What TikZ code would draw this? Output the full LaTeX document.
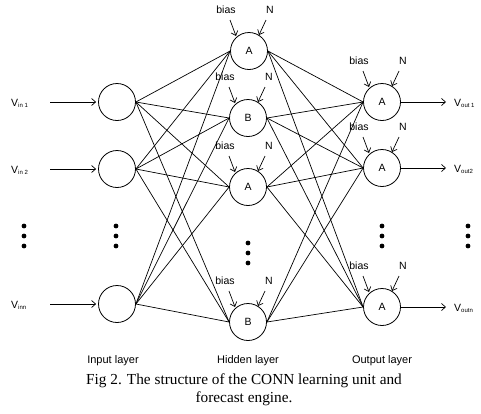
\documentclass[tikz,border=0pt]{standalone}
\usepackage{fontspec}
\setmainfont{Liberation Sans}
\newfontfamily\capfont{Liberation Serif}
\usetikzlibrary{arrows.meta,calc}
\begin{document}
\begin{tikzpicture}[x=1pt,y=-1pt,
  neuron/.style={circle,draw,line width=0.8pt,minimum size=37pt,inner sep=0pt,font=\fontsize{10.5}{11}\selectfont},
  conn/.style={line width=0.7pt},
  inarrow/.style={line width=0.7pt,-{Straight Barb[length=4pt,width=7pt]}},
  small/.style={font=\fontsize{10.5}{11}\selectfont,inner sep=0pt},
  lbl/.style={font=\fontsize{11}{12}\selectfont,inner sep=0pt},
  dot/.style={circle,fill,inner sep=0pt,minimum size=4.8pt}]
\useasboundingbox (0,0) rectangle (481,413);
\newcommand{\vsub}[1]{V\raisebox{-1pt}{\fontsize{6}{6}\selectfont #1}}
% input layer
\node[neuron] (i1) at (117,102) {};
\node[neuron] (i2) at (117,169) {};
\node[neuron] (in) at (117,304) {};
% hidden layer
\node[neuron] (h1) at (249,51) {A};
\node[neuron] (h2) at (248,118) {B};
\node[neuron] (h3) at (248,187) {A};
\node[neuron] (hn) at (248,322) {B};
% output layer
\node[neuron] (o1) at (382,102) {A};
\node[neuron] (o2) at (382,168) {A};
\node[neuron] (on) at (382,307) {A};
% connections
\foreach \a in {i1,i2,in}{
  \foreach \b in {h1,h2,h3,hn}{
    \draw[conn] (\a.east) -- (\b.west);
  }
}
\foreach \a in {h1,h2,h3,hn}{
  \foreach \b in {o1,o2,on}{
    \draw[conn] (\a.east) -- (\b.west);
  }
}
% input labels and arrows
\node[small,anchor=west] (v1) at (11,103) {\vsub{in 1}};
\node[small,anchor=west] (v2) at (11,170) {\vsub{in 2}};
\node[small,anchor=west] (vn) at (11,305) {\vsub{inn}};
\coordinate (a1) at (50,102);
\coordinate (a2) at (50,169);
\coordinate (an) at (50,304);
\draw[inarrow,shorten >=2pt] (a1) -- (i1.west);
\draw[inarrow,shorten >=2pt] (a2) -- (i2.west);
\draw[inarrow,shorten >=2pt] (an) -- (in.west);
% output labels and arrows
\coordinate (b1) at (446,102);
\coordinate (b2) at (446,168);
\coordinate (bn) at (446,307);
\draw[inarrow] (o1.east) -- (b1);
\draw[inarrow] (o2.east) -- (b2);
\draw[inarrow] (on.east) -- (bn);
\node[small,anchor=west] (w1) at (454,103) {\vsub{out 1}};
\node[small,anchor=west] (w2) at (454,169) {\vsub{out2}};
\node[small,anchor=west] (wn) at (454,308) {\vsub{outn}};
% bias and N
\foreach \n in {h1,h2,h3,hn,o1,o2,on}{
  \node[small] (\n b) at ($(\n)+(-23,-41)$) {bias};
  \node[small] (\n N) at ($(\n)+(21,-41)$) {N};
  \coordinate (\n bs) at ($(\n)+(-19,-31)$);
  \coordinate (\n be) at ($(\n)+(-13,-15)$);
  \coordinate (\n ns) at ($(\n)+(17,-31)$);
  \coordinate (\n ne) at ($(\n)+(10,-16)$);
  \draw[inarrow] (\n bs) -- (\n be);
  \draw[inarrow] (\n ns) -- (\n ne);
}
% dots
\foreach \x in {24,116,382,468}{
  \foreach \y in {226,236,246}{
    \node[dot] at (\x,\y) {};
  }
}
\foreach \y in {243,253,263}{
  \node[dot] at (248,\y) {};
}
% layer labels
\node[lbl] (l1) at (113,361) {Input layer};
\node[lbl] (l2) at (248,361) {Hidden layer};
\node[lbl] (l3) at (382,361) {Output layer};
% caption
\node[font=\capfont\fontsize{15.3}{18}\selectfont,align=center,inner sep=0pt] (cap) at (244,390) {Fig 2. The structure of the CONN learning unit and\\forecast engine.};
\end{tikzpicture}
\end{document}
